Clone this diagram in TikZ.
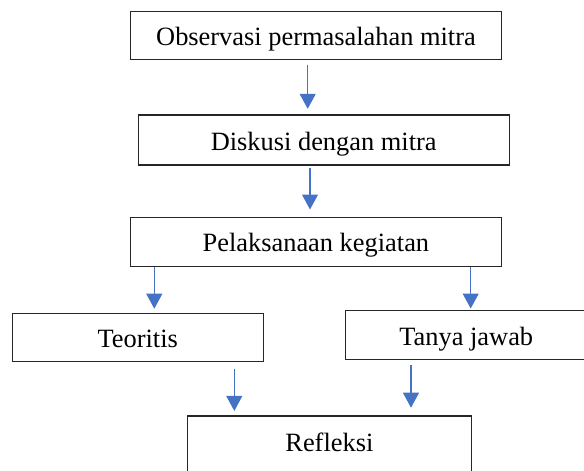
\documentclass[tikz,border=0pt]{standalone}
\usepackage{fontspec}
\setmainfont{Liberation Serif}
\usetikzlibrary{arrows.meta}
\definecolor{arrowblue}{RGB}{68,114,196}

\begin{document}
\begin{tikzpicture}[x=0.5pt,y=-0.5pt,
  box/.style={draw=black!85, line width=0.6pt, inner sep=0pt, text height=12pt, text depth=2pt, font=\fontsize{13.2}{16}\selectfont},
  down/.style={draw=arrowblue, line width=0.6pt, -{Triangle[length=7.5pt,width=8pt]}, shorten <=2.5pt, shorten >=2.8pt}]

\useasboundingbox (0,0) rectangle (584,471);
\clip (0,0) rectangle (584,471);

\node[box, minimum width=185.3pt, minimum height=23.8pt] (obs) at (316,35.5) {Observasi permasalahan mitra};
\node[box, minimum width=185.4pt, minimum height=25pt] (dis) at (323.7,140) {Diskusi dengan mitra};
\node[box, minimum width=185.2pt, minimum height=24.2pt] (pel) at (315.9,241.9) {Pelaksanaan kegiatan};

\node[box, minimum width=125.4pt, minimum height=24.2pt] (teo) at (137.7,337.5) {Teoritis};
\node[box, minimum width=120.5pt, minimum height=24.3pt] (tan) at (466.3,335) {Tanya jawab};

\node[box, minimum width=141.7pt, text height=17.85pt, text depth=40pt, anchor=north] (ref) at (329.4,415.3) {Refleksi};

\coordinate (a1) at (307.7,0);
\coordinate (a2) at (310,0);
\coordinate (a3) at (154.3,0);
\coordinate (a4) at (470.7,0);
\coordinate (a5) at (234.3,0);
\coordinate (a6) at (411,0);

\draw[down] (obs.south -| a1) -- (dis.north -| a1);
\draw[down, shorten <=1pt, shorten >=3.8pt] (dis.south -| a2) -- (pel.north -| a2);
\draw[down, shorten <=0pt, shorten >=2pt] (pel.south -| a3) -- (teo.north -| a3);
\draw[down, shorten <=0pt, shorten >=0.8pt] (pel.south -| a4) -- (tan.north -| a4);
\draw[down, shorten <=3.2pt, shorten >=2.2pt] (teo.south -| a5) -- (ref.north -| a5);
\draw[down, shorten >=3.8pt] (tan.south -| a6) -- (ref.north -| a6);

\end{tikzpicture}
\end{document}
